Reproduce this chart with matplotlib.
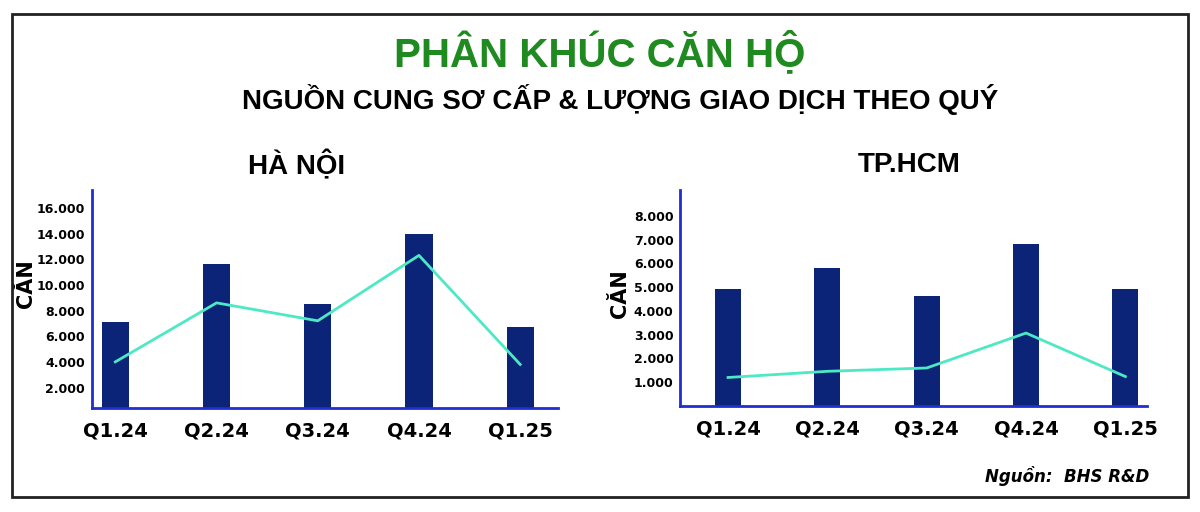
import matplotlib.pyplot as plt
from matplotlib.patches import Rectangle
from matplotlib.ticker import FuncFormatter

quarters = ['Q1.24', 'Q2.24', 'Q3.24', 'Q4.24', 'Q1.25']

# Ha Noi: primary supply (bars) and transactions (line)
hn_supply = [7100, 11600, 8500, 14000, 6700]
hn_sold = [4000, 8600, 7200, 12300, 3800]
hn_ticks = [2000, 4000, 6000, 8000, 10000, 12000, 14000, 16000]

# TP.HCM
hcm_supply = [4920, 5800, 4610, 6810, 4910]
hcm_sold = [1200, 1460, 1600, 3070, 1240]
hcm_ticks = [1000, 2000, 3000, 4000, 5000, 6000, 7000, 8000]

bar_color = '#0b2478'
line_color = '#4de8c4'
spine_color = '#1f2fd0'
title_font = ['Liberation Sans', 'DejaVu Sans']

fig = plt.figure(figsize=(12, 5.12), dpi=100)

# outer frame
fig.patches.append(Rectangle((0.01, 0.029), 0.98, 0.944, transform=fig.transFigure,
                             fill=False, edgecolor='#222222', linewidth=2))

fig.text(0.5, 0.898, 'PHÂN KHÚC CĂN HỘ', ha='center', va='center', fontsize=29,
         fontweight='bold', color='#1f8a1f', family=title_font)
fig.text(0.517, 0.805, 'NGUỒN CUNG SƠ CẤP & LƯỢNG GIAO DỊCH THEO QUÝ', ha='center',
         va='center', fontsize=20, fontweight='bold', color='black', family=title_font)
fig.text(0.2475, 0.678, 'HÀ NỘI', ha='center', va='center', fontsize=20,
         fontweight='bold', family=title_font)
fig.text(0.758, 0.678, 'TP.HCM', ha='center', va='center', fontsize=20,
         fontweight='bold', family=title_font)
fig.text(0.958, 0.07, 'Nguồn:  BHS R&D', ha='right', va='center', fontsize=12,
         fontweight='bold', style='italic')

fmt = FuncFormatter(lambda v, p: f'{int(v):,}'.replace(',', '.'))


def draw_panel(ax, supply, sold, ticks, ylim, xlim, width, label_xy):
    x = range(len(quarters))
    ax.bar(x, supply, width=width, color=bar_color, zorder=2)
    ax.plot(x, sold, color=line_color, linewidth=2, zorder=3)
    ax.set_xlim(*xlim)
    ax.set_ylim(*ylim)
    ax.set_yticks(ticks)
    ax.yaxis.set_major_formatter(fmt)
    ax.set_xticks(list(x))
    ax.set_xticklabels(quarters, fontsize=14, fontweight='bold')
    for lbl in ax.get_yticklabels():
        lbl.set_fontweight('semibold')
    ax.tick_params(axis='y', length=0, labelsize=9, pad=5)
    ax.tick_params(axis='x', length=0, pad=10)
    for s in ['top', 'right']:
        ax.spines[s].set_visible(False)
    for s in ['left', 'bottom']:
        ax.spines[s].set_color(spine_color)
        ax.spines[s].set_linewidth(2)
    ax.set_ylabel('CĂN', fontsize=15, fontweight='bold')
    ax.yaxis.set_label_coords(*label_xy)


ax1 = fig.add_axes([0.0767, 0.203, 0.388, 0.426])
draw_panel(ax1, hn_supply, hn_sold, hn_ticks, (400, 17400), (-0.23, 4.37), 0.27,
           (-0.12, 0.57))

ax2 = fig.add_axes([0.567, 0.207, 0.389, 0.422])
draw_panel(ax2, hcm_supply, hcm_sold, hcm_ticks, (0, 9090), (-0.48, 4.22), 0.26,
           (-0.107, 0.52))

fig.savefig('out.png', dpi=100)
